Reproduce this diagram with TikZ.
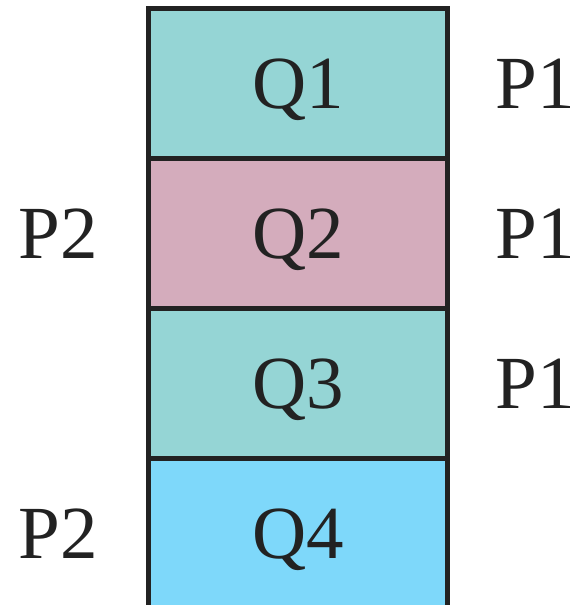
\documentclass[tikz,border=0pt]{standalone}
\usepackage{fontspec}
\setmainfont{Liberation Serif}
\definecolor{tealfill}{RGB}{149,213,213}
\definecolor{pinkfill}{RGB}{212,172,188}
\definecolor{bluefill}{RGB}{126,216,250}
\definecolor{ink}{RGB}{34,34,34}
\begin{document}
\begin{tikzpicture}[x=1pt,y=-1pt,
  bigtext/.style={font=\fontsize{75}{75}\selectfont,text=ink,text height=50pt,text depth=0pt},
  cell/.style={bigtext,draw=ink,line width=5pt,minimum width=299pt,minimum height=150pt,inner sep=0pt},
  tag/.style={bigtext,inner sep=0pt}]
\useasboundingbox (0,0) rectangle (574,605);
\begin{scope}
\clip (0,0) rectangle (574,605);
\node[cell,fill=tealfill] (q1) at (298,83) {Q1};
\node[cell,fill=pinkfill] (q2) at (298,233) {Q2};
\node[cell,fill=tealfill] (q3) at (298,383) {Q3};
\node[cell,fill=bluefill] (q4) at (298,533) {Q4};
\end{scope}
\node[tag] (p1a) at (535,83) {P1};
\node[tag] (p1b) at (535,233) {P1};
\node[tag] (p1c) at (535,383) {P1};
\node[tag] (p2a) at (58,233) {P2};
\node[tag] (p2b) at (58,533) {P2};
\end{tikzpicture}
\end{document}
